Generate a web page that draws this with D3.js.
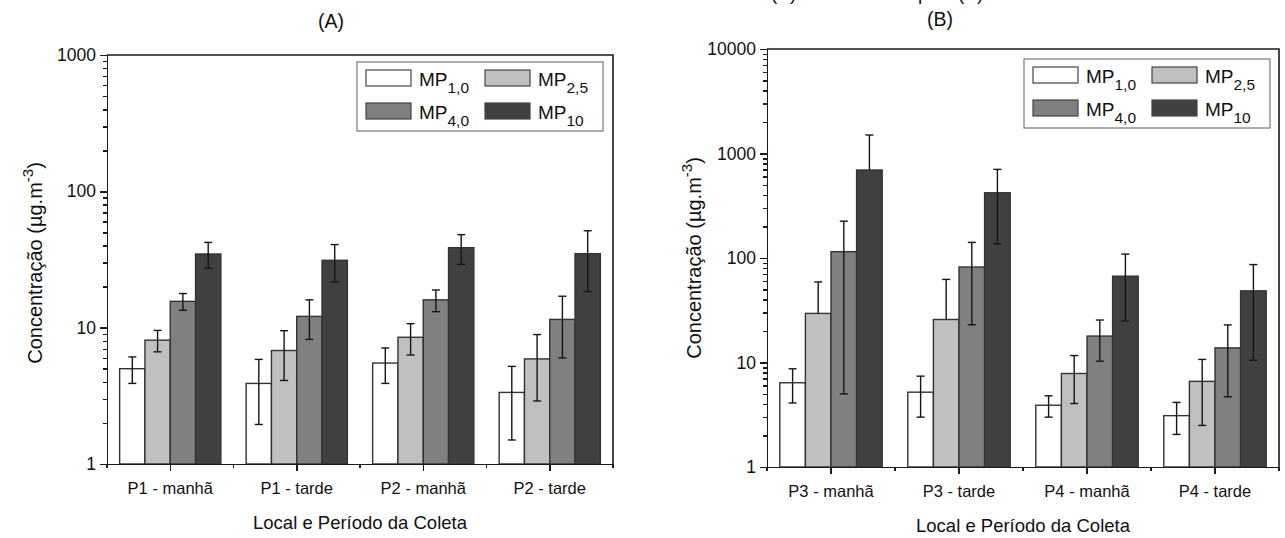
<!doctype html>
<html lang="pt">
<head>
<meta charset="utf-8">
<title>Concentração de MP</title>
<script src="https://cdn.jsdelivr.net/npm/d3@7"></script>
<style>
	body { margin: 0; background: #fff; }
	svg { display: block; font-family: "Liberation Sans", Arial, sans-serif; }
	.axis path, .axis line { stroke: #1a1a1a; stroke-width: 1.5; shape-rendering: crispEdges; }
	.axis text { font-size: 17.5px; fill: #111; font-family: "Liberation Sans", Arial, sans-serif; }
</style>
</head>
<body>
<div id="viz"></div>
<script>

// series (particle size fractions)
var seriesBase = ["MP", "MP", "MP", "MP"];
var seriesSub = ["1,0", "2,5", "4,0", "10"];
var seriesFill = ["#ffffff", "#c0c0c0", "#808080", "#404040"];

// panel A
var categoriesA = ["P1 - manhã", "P1 - tarde", "P2 - manhã", "P2 - tarde"];
var meanA_MP1 = [5.0, 3.9, 5.5, 3.35];
var meanA_MP25 = [8.1, 6.8, 8.5, 5.9];
var meanA_MP4 = [15.6, 12.1, 16.0, 11.5];
var meanA_MP10 = [34.7, 31.2, 38.6, 34.9];
var sdA_MP1 = [1.1, 1.95, 1.6, 1.85];
var sdA_MP25 = [1.45, 2.7, 2.2, 3.0];
var sdA_MP4 = [2.2, 3.9, 2.9, 5.5];
var sdA_MP10 = [7.5, 9.5, 9.5, 16.5];
var ticksA = [1, 10, 100, 1000];

// panel B
var categoriesB = ["P3 - manhã", "P3 - tarde", "P4 - manhã", "P4 - tarde"];
var meanB_MP1 = [6.4, 5.2, 3.9, 3.1];
var meanB_MP25 = [29.5, 25.8, 7.85, 6.6];
var meanB_MP4 = [115, 82, 17.9, 13.8];
var meanB_MP10 = [695, 421, 67, 48.5];
var sdB_MP1 = [2.3, 2.2, 0.9, 1.05];
var sdB_MP25 = [29.5, 36.6, 3.8, 4.1];
var sdB_MP4 = [110, 59, 7.6, 9.1];
var sdB_MP10 = [808, 284, 42, 38];
var ticksB = [1, 10, 100, 1000, 10000];

var w = 1285, h = 538;

var svg = d3.select("#viz")
	.append("svg")
	.attr("width", w)
	.attr("height", h)
	.attr("viewBox", "0 0 " + w + " " + h);

svg.append("rect").attr("width", w).attr("height", h).attr("fill", "#fff");

// line of text from the page above the figure, cut by the top edge as in the source
var clipped = svg.append("g").style("font-size", "19px").attr("fill", "#111");
clipped.append("text").attr("x", 771).attr("y", 0).text("(A)");
clipped.append("text").attr("x", 918).attr("y", 0).text("p");
clipped.append("text").attr("x", 958).attr("y", 0).text("(B)");

function drawPanel(p) {
	var g = svg.append("g");

	var xScale = d3.scaleBand().domain(p.categories).range([p.left, p.right]);
	var inner = d3.scaleBand()
		.domain(d3.range(4))
		.range([xScale.bandwidth() * 0.1, xScale.bandwidth() * 0.9]);
	var yScale = d3.scaleLog().domain(p.domain).range([p.bottom, p.top]);

	// minor log ticks
	var minor = [];
	for (var dec = p.domain[0]; dec < p.domain[1]; dec *= 10) {
		for (var k = 2; k <= 9; k++) minor.push(dec * k);
	}

	var rows = [];
	p.means.forEach(function(arr, s) {
		arr.forEach(function(v, c) {
			rows.push({cat: p.categories[c], s: s, mean: v, sd: p.sds[s][c]});
		});
	});

	// bars
	g.selectAll("rect.bar")
		.data(rows)
		.enter()
		.append("rect")
		.attr("class", "bar")
		.attr("x", d => xScale(d.cat) + inner(d.s))
		.attr("width", inner.bandwidth())
		.attr("y", d => yScale(d.mean))
		.attr("height", d => p.bottom - yScale(d.mean))
		.attr("fill", d => seriesFill[d.s])
		.attr("stroke", "#333")
		.attr("stroke-width", 1.4);

	// error bars; lower half dropped when it falls under the axis minimum
	var err = g.selectAll("g.err")
		.data(rows)
		.enter()
		.append("g")
		.attr("class", "err")
		.attr("stroke", "#151515")
		.attr("stroke-width", 1.4)
		.attr("transform", d => "translate(" + (xScale(d.cat) + inner(d.s) + inner.bandwidth() / 2) + ",0)");

	err.append("line")
		.attr("y1", d => yScale(d.mean))
		.attr("y2", d => yScale(d.mean + d.sd));
	err.append("line")
		.attr("x1", -4).attr("x2", 4)
		.attr("y1", d => yScale(d.mean + d.sd))
		.attr("y2", d => yScale(d.mean + d.sd));

	var low = err.filter(d => d.mean - d.sd >= p.domain[0]);
	low.append("line")
		.attr("y1", d => yScale(d.mean))
		.attr("y2", d => yScale(d.mean - d.sd));
	low.append("line")
		.attr("x1", -4).attr("x2", 4)
		.attr("y1", d => yScale(d.mean - d.sd))
		.attr("y2", d => yScale(d.mean - d.sd));

	// frame (top and right)
	g.append("path")
		.attr("d", "M" + p.left + "," + p.top + "H" + p.right + "V" + p.bottom)
		.attr("fill", "none")
		.attr("stroke", "#1a1a1a")
		.attr("stroke-width", 1.6);

	// y axis
	g.append("g")
		.attr("class", "axis")
		.attr("transform", "translate(" + p.left + ",0)")
		.call(d3.axisLeft(yScale).tickValues(minor).tickSize(4).tickFormat(""));
	g.append("g")
		.attr("class", "axis")
		.attr("transform", "translate(" + p.left + ",0)")
		.call(d3.axisLeft(yScale).tickValues(p.ticks).tickSize(7).tickPadding(4).tickFormat(d3.format("d")));

	// x axis: major ticks at categories, minor at band edges
	var edges = p.categories.map(c => xScale(c)).concat([p.right]);
	var xg = g.append("g")
		.attr("class", "axis")
		.attr("transform", "translate(0," + p.bottom + ")")
		.call(d3.axisBottom(xScale).tickSize(7).tickPadding(11).tickSizeOuter(0));
	xg.selectAll(".minor")
		.data(edges)
		.enter()
		.append("line")
		.attr("class", "minor")
		.attr("x1", d => d).attr("x2", d => d)
		.attr("y1", 0).attr("y2", 4);
	xg.selectAll(".tick text").style("font-size", "16.5px");

	// axis titles
	g.append("text")
		.attr("x", (p.left + p.right) / 2)
		.attr("y", p.bottom + 65)
		.attr("text-anchor", "middle")
		.style("font-size", "18.5px")
		.attr("fill", "#111")
		.text("Local e Período da Coleta");

	var yt = g.append("text")
		.attr("transform", "translate(" + p.ytitleX + "," + p.ytitleY + ") rotate(-90)")
		.attr("text-anchor", "middle")
		.style("font-size", "20px")
		.attr("fill", "#111");
	yt.append("tspan").text("Concentração (µg.m");
	yt.append("tspan").attr("dy", -9).style("font-size", "15px").text("-3");
	yt.append("tspan").attr("dy", 9).text(")");

	// panel title
	g.append("text")
		.attr("x", p.titleX)
		.attr("y", p.titleY)
		.attr("text-anchor", "middle")
		.style("font-size", "19.5px")
		.attr("fill", "#111")
		.text(p.title);

	// legend
	var lg = g.append("g").attr("transform", "translate(" + p.legendX + "," + p.legendY + ")");
	lg.append("rect")
		.attr("width", 246).attr("height", 69)
		.attr("fill", "#fff")
		.attr("stroke", "#777")
		.attr("stroke-width", 1.2);
	var item = lg.selectAll("g.item")
		.data(d3.range(4))
		.enter()
		.append("g")
		.attr("class", "item")
		.attr("transform", i => "translate(" + (9 + (i % 2) * 119) + "," + (8 + Math.floor(i / 2) * 33) + ")");
	item.append("rect")
		.attr("width", 45).attr("height", 16)
		.attr("fill", i => seriesFill[i])
		.attr("stroke", "#444")
		.attr("stroke-width", 1.2);
	var lt = item.append("text")
		.attr("x", 53).attr("y", 16)
		.style("font-size", "19px")
		.attr("fill", "#111");
	lt.append("tspan").text(i => seriesBase[i]);
	lt.append("tspan").attr("dy", 7).style("font-size", "15.5px").text(i => seriesSub[i]);
}

drawPanel({
	categories: categoriesA,
	means: [meanA_MP1, meanA_MP25, meanA_MP4, meanA_MP10],
	sds: [sdA_MP1, sdA_MP25, sdA_MP4, sdA_MP10],
	ticks: ticksA,
	domain: [1, 1000],
	left: 107, right: 613, top: 55, bottom: 464,
	title: "(A)", titleX: 331, titleY: 28,
	ytitleX: 42, ytitleY: 263,
	legendX: 357, legendY: 62
});

drawPanel({
	categories: categoriesB,
	means: [meanB_MP1, meanB_MP25, meanB_MP4, meanB_MP10],
	sds: [sdB_MP1, sdB_MP25, sdB_MP4, sdB_MP10],
	ticks: ticksB,
	domain: [1, 10000],
	left: 767, right: 1279, top: 49, bottom: 467,
	title: "(B)", titleX: 940, titleY: 26,
	ytitleX: 701, ytitleY: 258,
	legendX: 1024, legendY: 59
});

</script>
</body>
</html>
